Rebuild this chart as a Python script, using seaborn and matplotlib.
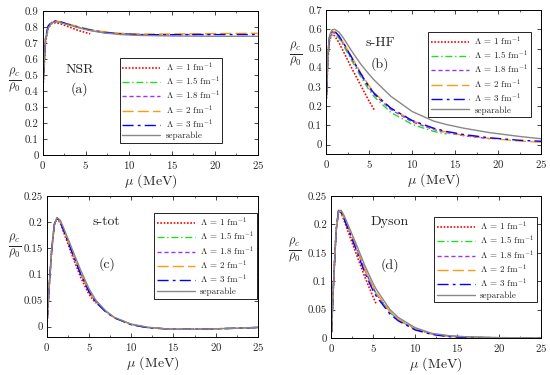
import numpy as np
import matplotlib
matplotlib.use("Agg")
import matplotlib.pyplot as plt
import seaborn as sns
from matplotlib.ticker import MultipleLocator, FuncFormatter

sns.set_style("ticks")
plt.rcParams['font.family'] = ['cmr10', 'DejaVu Serif']
plt.rcParams['mathtext.fontset'] = 'cm'
plt.rcParams['axes.unicode_minus'] = False
plt.rcParams['axes.formatter.use_mathtext'] = True

# --- data ---
labels = [r'$\Lambda$ = 1 fm$^{-1}$', r'$\Lambda$ = 1.5 fm$^{-1}$', r'$\Lambda$ = 1.8 fm$^{-1}$',
          r'$\Lambda$ = 2 fm$^{-1}$', r'$\Lambda$ = 3 fm$^{-1}$', 'separable']

# (a) NSR
mu_a = [0.05, 0.3, 0.6, 1.0, 1.5, 2, 3, 4, 5, 5.5, 7, 9, 11, 13, 15, 17.5, 20, 22.5, 25]
red_a = [0.45, 0.70, 0.79, 0.82, 0.826, 0.82, 0.80, 0.78, 0.764, 0.757]
green_a = [0.46, 0.71, 0.795, 0.825, 0.833, 0.829, 0.813, 0.798, 0.785, 0.779, 0.765, 0.755, 0.751]
purple_a = [0.47, 0.72, 0.80, 0.828, 0.835, 0.831, 0.815, 0.80, 0.786, 0.78, 0.766, 0.756, 0.752,
            0.751, 0.751, 0.752, 0.752]
orange_a = [0.47, 0.72, 0.80, 0.83, 0.836, 0.833, 0.818, 0.803, 0.79, 0.784, 0.77, 0.76, 0.756,
            0.755, 0.756, 0.757, 0.758, 0.759, 0.76]
blue_a = [0.48, 0.73, 0.805, 0.83, 0.837, 0.832, 0.815, 0.80, 0.786, 0.78, 0.766, 0.756, 0.752,
          0.751, 0.751, 0.752, 0.752, 0.752, 0.752]
sep_a = [0.50, 0.72, 0.79, 0.825, 0.832, 0.827, 0.812, 0.797, 0.783, 0.777, 0.763, 0.752, 0.747,
         0.745, 0.743, 0.742, 0.741, 0.741, 0.741]

# (b) s-HF
mu_b = [0.05, 0.2, 0.4, 0.7, 1.0, 1.5, 2, 3, 4, 5, 5.6, 7.5, 10, 12.5, 14, 16, 19, 22.5, 25]
red_b = [0.24, 0.44, 0.545, 0.575, 0.565, 0.53, 0.485, 0.395, 0.31, 0.225, 0.18]
green_b = [0.25, 0.45, 0.55, 0.58, 0.578, 0.553, 0.517, 0.435, 0.355, 0.283, 0.248, 0.168, 0.105,
           0.068, 0.055]
purple_b = [0.26, 0.46, 0.555, 0.585, 0.583, 0.56, 0.525, 0.445, 0.365, 0.295, 0.26, 0.183, 0.118,
            0.078, 0.062, 0.046, 0.03]
orange_b = [0.27, 0.47, 0.56, 0.59, 0.588, 0.565, 0.532, 0.455, 0.375, 0.305, 0.27, 0.19, 0.125,
            0.082, 0.065, 0.048, 0.032, 0.018, 0.012]
blue_b = [0.27, 0.47, 0.565, 0.595, 0.59, 0.565, 0.53, 0.45, 0.37, 0.30, 0.265, 0.19, 0.125,
          0.085, 0.068, 0.052, 0.035, 0.022, 0.017]
sep_b = [0.28, 0.48, 0.57, 0.598, 0.60, 0.585, 0.555, 0.485, 0.42, 0.365, 0.335, 0.252, 0.172,
         0.122, 0.104, 0.085, 0.062, 0.042, 0.03]

# (c) s-tot
mu_c = [0.05, 0.3, 0.6, 0.9, 1.2, 1.6, 2, 3, 4, 5, 5.8, 7, 8, 10, 12, 14, 16, 18, 20, 22.5, 25]
red_c = [0.01, 0.08, 0.15, 0.195, 0.207, 0.199, 0.181, 0.137, 0.095, 0.062, 0.045]
green_c = [0.01, 0.08, 0.15, 0.196, 0.208, 0.201, 0.185, 0.144, 0.103, 0.068, 0.048, 0.029, 0.017,
           0.004, -0.002, -0.004, -0.005, -0.0045, -0.004, -0.003, -0.0015]
purple_c = [0.01, 0.08, 0.15, 0.196, 0.208, 0.201, 0.185, 0.144, 0.103, 0.068, 0.048, 0.029, 0.017,
            0.004, -0.002, -0.004, -0.005, -0.0045, -0.004, -0.003, -0.0015]
orange_c = [0.01, 0.08, 0.15, 0.196, 0.208, 0.202, 0.186, 0.145, 0.104, 0.069, 0.048, 0.029, 0.017,
            0.004, -0.002, -0.004, -0.005, -0.0045, -0.004, -0.003, -0.0015]
blue_c = [0.01, 0.08, 0.15, 0.196, 0.208, 0.201, 0.184, 0.142, 0.101, 0.067, 0.047, 0.028, 0.017,
          0.004, -0.002, -0.004, -0.005, -0.0045, -0.004, -0.003, -0.0015]
sep_c = [0.01, 0.08, 0.15, 0.195, 0.209, 0.204, 0.189, 0.149, 0.109, 0.073, 0.051, 0.03, 0.018,
         0.005, -0.001, -0.004, -0.005, -0.0045, -0.004, -0.003, -0.001]

# (d) Dyson
mu_d = [0.05, 0.3, 0.6, 0.9, 1.2, 1.6, 2, 3, 4, 5, 5.4, 7, 8, 10, 12, 14, 16, 18, 20, 22.5, 25]
red_d = [0.01, 0.1, 0.19, 0.224, 0.22, 0.205, 0.188, 0.148, 0.108, 0.072, 0.059]
green_d = [0.01, 0.1, 0.19, 0.225, 0.223, 0.21, 0.196, 0.159, 0.12, 0.088, 0.077, 0.045, 0.032,
           0.015, 0.007, 0.003, 0.0015, 0.0007, 0.0003, 0.0001, 0.0]
purple_d = [0.01, 0.1, 0.19, 0.225, 0.223, 0.21, 0.196, 0.159, 0.12, 0.088, 0.077, 0.045, 0.032,
            0.015, 0.007, 0.003, 0.0015, 0.0007, 0.0003, 0.0001, 0.0]
orange_d = [0.01, 0.1, 0.19, 0.225, 0.224, 0.211, 0.197, 0.16, 0.122, 0.09, 0.079, 0.046, 0.033,
            0.016, 0.007, 0.003, 0.0015, 0.0007, 0.0003, 0.0001, 0.0]
blue_d = [0.01, 0.1, 0.19, 0.226, 0.222, 0.208, 0.193, 0.155, 0.115, 0.083, 0.073, 0.042, 0.03,
          0.014, 0.006, 0.002, 0.001, 0.0005, 0.0002, 0.0, 0.0]
sep_d = [0.01, 0.1, 0.19, 0.224, 0.225, 0.214, 0.20, 0.165, 0.128, 0.096, 0.085, 0.05, 0.036,
         0.018, 0.008, 0.004, 0.002, 0.001, 0.0005, 0.0002, 0.0]

# --- styles ---
colors = ['#ff0000', '#22dd22', '#9933ff', '#ff9911', '#0000ff', '#888888']
styles = [(0, (1, 1)), (0, (5, 2, 1, 2)), (0, (3, 2)), (0, (8, 3)), (0, (8, 3, 2, 3)), '-']
widths = [1.2, 1.0, 1.0, 1.0, 1.0, 1.0]

panels = [
    dict(mu=mu_a, series=[red_a, green_a, purple_a, orange_a, blue_a, sep_a],
         rect=[0.078, 0.587, 0.391, 0.384], ylim=(0, 0.9), ystep=0.1,
         name='NSR', tag='(a)', txt=(4.3, 0.53, 0.41),
         leg=(0.835, 0.675), ylab=(-0.13, 0.51)),
    dict(mu=mu_b, series=[red_b, green_b, purple_b, orange_b, blue_b, sep_b],
         rect=[0.593, 0.589, 0.391, 0.384], ylim=(-0.05, 0.7), ystep=0.1,
         name='s-HF', tag='(b)', txt=(6.3, 0.53, 0.42),
         leg=(0.953, 0.85), ylab=(-0.14, 0.69)),
    dict(mu=mu_c, series=[red_c, green_c, purple_c, orange_c, blue_c, sep_c],
         rect=[0.085, 0.101, 0.384, 0.376], ylim=(-0.02, 0.25), ystep=0.05,
         name='s-tot', tag='(c)', txt=(7.1, 0.2, 0.12),
         leg=(0.995, 0.88), ylab=(-0.15, 0.64)),
    dict(mu=mu_d, series=[red_d, green_d, purple_d, orange_d, blue_d, sep_d],
         rect=[0.602, 0.099, 0.382, 0.378], ylim=(0, 0.25), ystep=0.05,
         name='Dyson', tag='(d)', txt=(7.0, 0.204, 0.128),
         leg=(0.98, 0.853), ylab=(-0.175, 0.61)),
]

fig = plt.figure(figsize=(5.5, 3.75), dpi=100)

for p in panels:
    ax = fig.add_axes(p['rect'])
    for vals, lab, c, ls, lw in zip(p['series'], labels, colors, styles, widths):
        x = np.array(p['mu'][:len(vals)])
        sns.lineplot(x=x, y=np.array(vals), ax=ax, color=c, linestyle=ls, linewidth=lw,
                     label=lab, sort=False, estimator=None)
    ax.set_xlim(0, 25)
    ax.set_ylim(*p['ylim'])
    ax.xaxis.set_major_locator(MultipleLocator(5))
    ax.xaxis.set_minor_locator(MultipleLocator(2.5))
    ax.yaxis.set_major_locator(MultipleLocator(p['ystep']))
    ax.yaxis.set_major_formatter(FuncFormatter(lambda v, pos: f'{v:g}' if abs(v) > 1e-9 else '0'))
    ax.tick_params(direction='in', top=True, right=True, labelsize=7.8, length=3, width=0.6, pad=3)
    ax.tick_params(which='minor', direction='in', top=True, right=False, length=1.5, width=0.5)
    for s in ax.spines.values():
        s.set_color('black')
        s.set_linewidth(0.7)
    ax.set_xlabel(r'$\mu$ (MeV)', fontsize=10, labelpad=1)
    ax.set_ylabel(r'$\frac{\rho_c}{\rho_0}$', fontsize=12.5, rotation=0, ha='center', va='center')
    ax.yaxis.set_label_coords(*p['ylab'])
    tx, ty1, ty2 = p['txt']
    ax.text(tx, ty1, p['name'], ha='center', va='center', fontsize=10)
    ax.text(tx, ty2, p['tag'], ha='center', va='center', fontsize=10)
    leg = ax.legend(loc='upper right', bbox_to_anchor=p['leg'], fontsize=6.5, frameon=True,
                    fancybox=False, edgecolor='black', framealpha=1, handlelength=4.2,
                    handletextpad=0.6, labelspacing=0.12, borderpad=0.3, borderaxespad=0)
    leg.get_frame().set_linewidth(0.6)

plt.savefig('out.png', dpi=100)
